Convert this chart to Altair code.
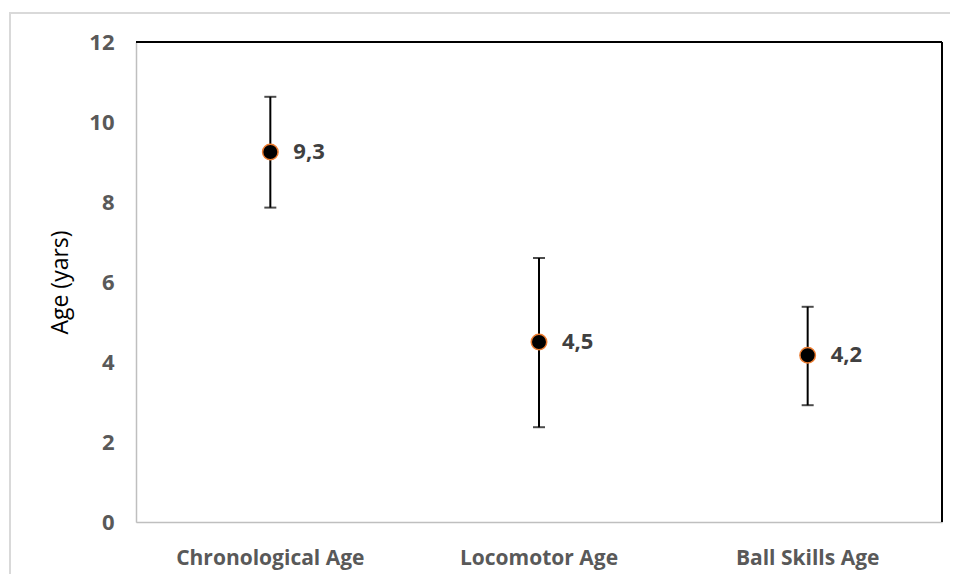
import altair as alt
import pandas as pd

categories = ["Chronological Age", "Locomotor Age", "Ball Skills Age"]
means = [9.25, 4.5, 4.17]
lower = [7.86, 2.37, 2.92]
upper = [10.63, 6.6, 5.38]
labels = ["9,3", "4,5", "4,2"]

df = pd.DataFrame({"cat": categories, "mean": means, "lo": lower, "hi": upper, "label": labels})

W, H = 806, 480
FONT = "Open Sans"

x = alt.X("cat:N", sort=categories, scale=alt.Scale(paddingInner=0, paddingOuter=0),
          axis=alt.Axis(title=None, labelAngle=0, labelAlign="center", labelBaseline="middle",
                        labelFontSize=21, labelFontWeight="bold",
                        labelColor="#595959", labelPadding=36, labelLimit=400, ticks=False,
                        domainColor="#bfbfbf", domainWidth=1.5, labelFont=FONT))
y = alt.Y("mean:Q", scale=alt.Scale(domain=[0, 12]),
          axis=alt.Axis(title="Age (yars)", values=[0, 2, 4, 6, 8, 10, 12], grid=False, ticks=False,
                        labelFontSize=22, labelFontWeight="bold", labelColor="#595959",
                        labelPadding=22, domainColor="#bfbfbf", domainWidth=1.5,
                        titleFontSize=23, titleFontWeight="normal", titleColor="#000000",
                        titlePadding=16, labelFont=FONT, titleFont=FONT))

base = alt.Chart(df)

rule = base.mark_rule(color="black", strokeWidth=2).encode(
    x=x, y=alt.Y("lo:Q"), y2="hi:Q")
cap_hi = base.mark_tick(color="black", thickness=2, size=12).encode(
    x=x, y=alt.Y("hi:Q"))
cap_lo = base.mark_tick(color="black", thickness=2, size=12).encode(
    x=x, y=alt.Y("lo:Q"))
pts = base.mark_point(filled=True, fill="black", stroke="#ED7D31", strokeWidth=1.5,
                      size=240, opacity=1, shape="circle").encode(x=x, y=y)
txt = base.mark_text(align="left", baseline="middle", dx=23, fontSize=22, fontWeight="bold",
                     color="#404040", font=FONT).encode(
    x=x, y=alt.Y("mean:Q"), text="label:N")

deco = alt.Chart(pd.DataFrame({"k": [0]}))
top_line = deco.mark_rule(color="black", strokeWidth=2).encode(
    x=alt.value(0), x2=alt.value(W), y=alt.value(0))
right_line = deco.mark_rule(color="black", strokeWidth=2).encode(
    x=alt.value(W), y=alt.value(0), y2=alt.value(H))
frame = deco.mark_rect(fill=None, stroke="#d9d9d9", strokeWidth=2).encode(
    x=alt.value(-126), x2=alt.value(W + 30), y=alt.value(-29), y2=alt.value(H + 90))

chart = alt.layer(frame, rule, cap_hi, cap_lo, pts, txt, top_line, right_line).properties(
    width=W, height=H,
    autosize=alt.AutoSizeParams(type="none"),
    padding={"left": 128, "top": 34, "right": 8, "bottom": 52},
).configure_view(stroke=None).configure(background="white")

chart.save("out.html", embed_options={"renderer": "svg", "actions": False})
